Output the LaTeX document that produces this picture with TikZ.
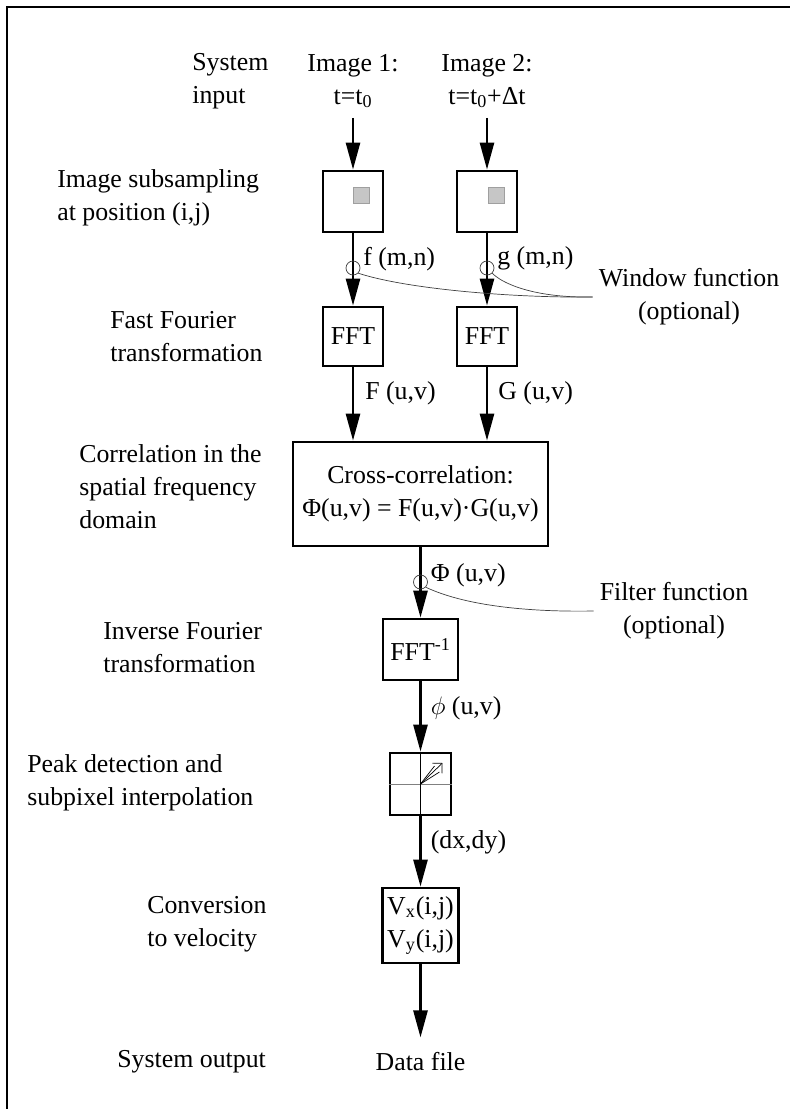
\documentclass[tikz,border=0pt]{standalone}
\usepackage{fontspec}
\setmainfont{Liberation Serif}
\usetikzlibrary{arrows.meta}
\tikzstyle{stage} = [anchor=west, align=left, inner sep=0pt]
\tikzstyle{source} = [align=center, inner ysep=0.19cm]
\tikzstyle{process} = [rectangle, draw=black, line width=1.6pt, inner sep=0pt, align=center]
\tikzstyle{patch} = [rectangle, draw=gray!75, fill=gray!45, minimum size=0.32cm, inner sep=0pt]
\tikzstyle{signal} = [anchor=west, inner sep=0pt]
\tikzstyle{tap} = [circle, draw=black!75, thin, minimum size=0.28cm, inner sep=0pt]
\tikzstyle{hint} = [draw=black!75, thin]
\tikzstyle{arrow} = [line width=1.5pt, -{Triangle[length=0.54cm, width=0.28cm]}]

\begin{document}
\begin{tikzpicture}[x=0.02cm, y=-0.02cm, font=\fontsize{14.7}{18.8}\selectfont]
      \useasboundingbox (0,0) rectangle (790,1109);
      \draw [line width=1.2pt] (7,1109) -- (7,7) -- (790,7);

      \node (lin)    [stage] at (192,81)   {System\\input};
      \node (lsub)   [stage] at (57,198)   {Image subsampling\\at position (i,j)};
      \node (lfft)   [stage] at (110,337)  {Fast Fourier\\transformation};
      \node (lcorr)  [stage] at (79,487)   {Correlation in the\\spatial frequency\\domain};
      \node (linv)   [stage] at (103,648)  {Inverse Fourier\\transformation};
      \node (lpeak)  [stage] at (27,783)   {Peak detection and\\subpixel interpolation};
      \node (lvel)   [stage] at (147,924)  {Conversion\\to velocity};
      \node (lout)   [stage] at (117,1062) {System output};

      \node (img1)   [source] at (353,81)  {Image 1:\\t=t\textsubscript{0}};
      \node (img2)   [source] at (487,81)  {Image 2:\\t=t\textsubscript{0}+Δt};
      \node (sub1)   [process, minimum width=1.2cm, minimum height=1.22cm] at (353,201.5) {};
      \node (sub2)   [process, minimum width=1.2cm, minimum height=1.22cm] at (487,201.5) {};
      \node (patch1) [patch] at ([shift={(8,-6)}]sub1.center) {};
      \node (patch2) [patch] at ([shift={(9,-6)}]sub2.center) {};
      \node (fft1)   [process, minimum width=1.2cm, minimum height=1.18cm] at (353,336.5) {FFT};
      \node (fft2)   [process, minimum width=1.2cm, minimum height=1.18cm] at (487,336.5) {FFT};
      \node (cross)  [process, minimum width=5.1cm, minimum height=2.08cm] at (420.5,494) {Cross-correlation:\\Φ(u,v) = F(u,v)·G(u,v)};
      \node (inv)    [process, minimum width=1.5cm, minimum height=1.22cm] at (420.5,649.5) {FFT\textsuperscript{-1}};
      \node (peak)   [process, minimum width=1.22cm, minimum height=1.24cm] at (420.5,784) {};
      \node (vel)    [process, minimum width=1.52cm, minimum height=1.5cm] at (420.5,925.5) {V\textsubscript{x}(i,j)\\V\textsubscript{y}(i,j)};
      \node (data)   [inner ysep=0.3cm] at (420.5,1062) {Data file};

      \node (window) at (689,297) [align=center] {Window function\\(optional)};
      \node (filter) at (674,611) [align=center] {Filter function\\(optional)};

      \draw [arrow] (img1) -- (sub1);
      \draw [arrow] (img2) -- (sub2);
      \draw [arrow] (sub1) -- node[signal, pos=0.35, xshift=0.18cm] {f (m,n)} (fft1);
      \draw [arrow] (sub2) -- node[signal, pos=0.35, xshift=0.18cm] {g (m,n)} (fft2);
      \draw [arrow] (fft1.south) -- node[signal, pos=0.36, xshift=0.22cm] {F (u,v)} (fft1.south |- cross.north);
      \draw [arrow] (fft2.south) -- node[signal, pos=0.36, xshift=0.2cm] {G (u,v)} (fft2.south |- cross.north);
      \draw [arrow] (cross) -- node[signal, pos=0.4, xshift=0.18cm] {Φ (u,v)} (inv);
      \draw [arrow] (inv) -- node[signal, pos=0.38, xshift=0.18cm] {$\phi$ (u,v)} (peak);
      \draw [arrow] (peak) -- node[signal, pos=0.37, xshift=0.18cm] {(dx,dy)} (vel);
      \draw [arrow] (vel) -- (data);

      \node (tap1) [tap] at (353,268) {};
      \node (tap2) [tap] at (487,268) {};
      \node (tap3) [tap] at (420.5,582) {};
      \draw [hint] (tap1.south east) .. controls (410,290) and (520,298) .. (window.west);
      \draw [hint] (tap2.south east) .. controls (505,286) and (540,298) .. (window.west);
      \draw [hint] (tap3.south east) .. controls (470,608) and (540,612) .. (filter.west);

      \draw [thin, gray] (peak.west) -- (peak.east);
      \draw [thin] (peak.north) -- (peak.south);
      \draw [thin, -{Straight Barb[length=0.14cm]}] (peak.center) -- ++(22,-21);
      \draw [thin] (peak.center) -- ++(14,-18);
      \draw [thin] (peak.center) -- ++(19,-12);
\end{tikzpicture}
\end{document}
